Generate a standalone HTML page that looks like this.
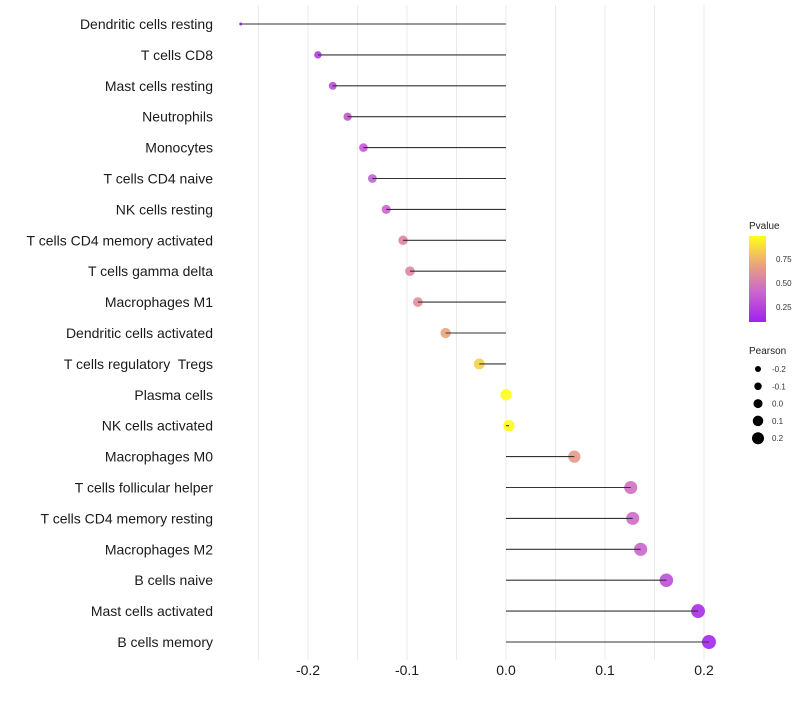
<!DOCTYPE html>
<html><head><meta charset="utf-8"><style>
body{margin:0;background:#fff;}
svg text{font-family:"Liberation Sans",sans-serif;white-space:pre;}
</style></head><body>
<svg id="chart" width="800" height="700" xmlns="http://www.w3.org/2000/svg">
<defs><linearGradient id="pg" x1="0" y1="1" x2="0" y2="0">
<stop offset="0" stop-color="#a020f0"/><stop offset="0.35" stop-color="#cc66cc"/><stop offset="0.65" stop-color="#e8a080"/><stop offset="1" stop-color="#ffff1a"/></linearGradient></defs>
<g id="grid"></g>
<g id="marks"></g>
<g id="ylab"></g>
<g id="xlab"></g>
<g>
<text x="749" y="229" font-size="10" fill="#222">Pvalue</text>
<rect x="749" y="236" width="17" height="86" fill="url(#pg)"/>
<text x="776" y="262" font-size="8" fill="#333">0.75</text>
<text x="776" y="286" font-size="8" fill="#333">0.50</text>
<text x="776" y="310" font-size="8" fill="#333">0.25</text>
</g>
<g id="sizeleg">
<text x="749" y="354" font-size="10" fill="#222">Pearson</text>
</g>
</svg>
<script>
const categories=["Dendritic cells resting","T cells CD8","Mast cells resting","Neutrophils","Monocytes","T cells CD4 naive","NK cells resting","T cells CD4 memory activated","T cells gamma delta","Macrophages M1","Dendritic cells activated","T cells regulatory  Tregs","Plasma cells","NK cells activated","Macrophages M0","T cells follicular helper","T cells CD4 memory resting","Macrophages M2","B cells naive","Mast cells activated","B cells memory"];
const pearson=[-0.268,-0.190,-0.175,-0.160,-0.144,-0.135,-0.121,-0.104,-0.097,-0.089,-0.061,-0.027,0.000,0.003,0.069,0.126,0.128,0.136,0.162,0.194,0.205];
const pvalue=[0.08,0.22,0.28,0.33,0.35,0.38,0.40,0.55,0.57,0.60,0.70,0.85,1.0,0.98,0.65,0.45,0.43,0.40,0.30,0.15,0.12];
const xTicks=[-0.2,-0.1,0.0,0.1,0.2];
const xTickLabels=["-0.2","-0.1","0.0","0.1","0.2"];
const sizeLegend=[-0.2,-0.1,0.0,0.1,0.2];
const sizeLegendLabels=["-0.2","-0.1","0.0","0.1","0.2"];
const NS="http://www.w3.org/2000/svg";
const xs=v=>506+v*990;
const ys=i=>24+i*30.9;
const pMin=Math.min(...pearson), pMax=Math.max(...pearson);
const rs=v=>1.5+5.5*Math.sqrt(Math.max(0,(v-pMin)/(pMax-pMin)));
function col(p){
 const st=[[0,[160,32,240]],[0.35,[204,102,204]],[0.65,[232,160,128]],[1,[255,255,26]]];
 const t=Math.max(0,Math.min(1,(p-0.09)/0.91));
 for(let k=1;k<st.length;k++){if(t<=st[k][0]){const a=st[k-1],b=st[k];const f=(t-a[0])/(b[0]-a[0]);
 return "rgb("+a[1].map((c,j)=>Math.round(c+(b[1][j]-c)*f)).join(",")+")";}}
 return "rgb(255,255,26)";
}
function mk(tag,attrs,parent){const e=document.createElementNS(NS,tag);for(const k in attrs)e.setAttribute(k,attrs[k]);parent.appendChild(e);return e;}
const grid=document.getElementById('grid');
for(let v=-0.25;v<=0.2001;v+=0.05){
 const g=mk('line',{x1:xs(v),x2:xs(v),y1:5,y2:660,stroke:'#ebebeb','stroke-width':1},grid);
 
 
}
const marks=document.getElementById('marks');
const ylab=document.getElementById('ylab');
categories.forEach((c,i)=>{
 const p=mk('circle',{cx:xs(pearson[i]),cy:ys(i),r:rs(pearson[i]),fill:col(pvalue[i]),'fill-opacity':0.9},marks);
 
 
 const t=mk('text',{x:213,y:ys(i)+5,'text-anchor':'end','font-size':14,fill:'#1a1a1a'},ylab);
 t.textContent=c;
 
 
});
categories.forEach((c,i)=>{
 const l=mk('line',{x1:xs(0),x2:xs(pearson[i]),y1:ys(i),y2:ys(i),stroke:'#333','stroke-width':1.1},marks);
 
 
});
const xlab=document.getElementById('xlab');
xTicks.forEach((v,i)=>{
 const t=mk('text',{x:xs(v),y:675,'text-anchor':'middle','font-size':14,fill:'#1a1a1a'},xlab);
 t.textContent=xTickLabels[i];
 
 
});
const sl=document.getElementById('sizeleg');
sizeLegend.forEach((v,i)=>{
 const y=369+i*17.3;
 const c=mk('circle',{cx:758,cy:y,r:3+(v+0.2)*7.5,fill:'#000'},sl);
 
 
 const t=mk('text',{x:772,y:y+3,'font-size':8,fill:'#333'},sl);
 t.textContent=sizeLegendLabels[i];
 
 
});
</script>
</body></html>
